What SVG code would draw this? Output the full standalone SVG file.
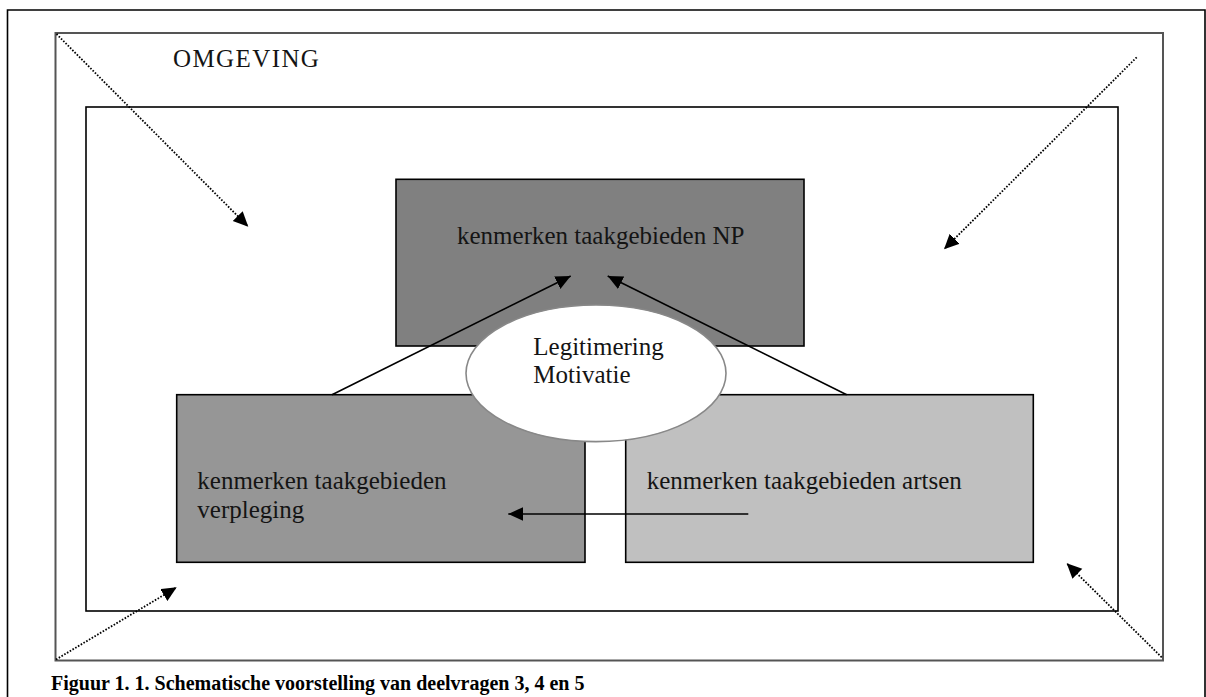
<svg xmlns="http://www.w3.org/2000/svg" width="1206" height="697" viewBox="0 0 1206 697">
<style>
.t{font-family:"Liberation Serif","Times New Roman",serif;font-size:25px;fill:#141414}
.cap{font-family:"Liberation Serif","Times New Roman",serif;font-size:20px;font-weight:bold;fill:#000}
.box{stroke:#000;stroke-width:1.6}
.solid{stroke:#000;stroke-width:1.6;fill:none}
.dot{stroke:#000;stroke-width:1.8;fill:none;stroke-dasharray:1.6 1.6}
</style>
<defs>
<marker id="ah" markerUnits="userSpaceOnUse" markerWidth="16" markerHeight="15" refX="15" refY="7" orient="auto">
<path d="M0,0 L15,7 L0,14 z" fill="#000"/>
</marker>
</defs>
<rect width="1206" height="697" fill="#fff"/>
<g id="frame">
<path d="M7.5,697 V10 H1205 V697" fill="none" stroke="#000" stroke-width="1.6"/>
</g>
<g id="omgeving">
<rect x="55.5" y="33" width="1107.5" height="627.5" fill="none" stroke="#555" stroke-width="2"/>
<text class="t" x="173" y="67" letter-spacing="1.4">OMGEVING</text>
</g>
<g id="organisatie">
<rect x="86" y="107" width="1032" height="504" fill="none" stroke="#000" stroke-width="1.6"/>
</g>
<g id="np">
<rect class="box" x="396" y="179.3" width="408" height="166.7" fill="#808080"/>
<text class="t" x="457" y="244">kenmerken taakgebieden NP</text>
</g>
<g id="verpleging">
<rect class="box" x="176.7" y="394.7" width="408.3" height="167.6" fill="#969696"/>
<text class="t" x="197.3" y="489.3">kenmerken taakgebieden</text>
<text class="t" x="197.3" y="517.5">verpleging</text>
</g>
<g id="artsen">
<rect class="box" x="625.7" y="394.7" width="407.6" height="167.6" fill="#c0c0c0"/>
<text class="t" x="646.7" y="489.3">kenmerken taakgebieden artsen</text>
</g>
<g id="legitimering">
<ellipse cx="596" cy="373.3" rx="130" ry="68.3" fill="#fff" stroke="#888" stroke-width="1.6"/>
<text class="t" x="533.3" y="355">Legitimering</text>
<text class="t" x="533.3" y="383.3">Motivatie</text>
</g>
<g id="connectors">
<line class="solid" x1="332" y1="394.7" x2="570.7" y2="276" marker-end="url(#ah)"/>
<line class="solid" x1="846.7" y1="394.7" x2="607.7" y2="276" marker-end="url(#ah)"/>
<line class="solid" x1="748.3" y1="514" x2="508.3" y2="514" marker-end="url(#ah)"/>
<line class="dot" x1="56.5" y1="34" x2="248.3" y2="226.7" marker-end="url(#ah)"/>
<line class="dot" x1="1136.7" y1="57.3" x2="944" y2="249.3" marker-end="url(#ah)"/>
<line class="dot" x1="56" y1="659.5" x2="176.7" y2="587.3" marker-end="url(#ah)"/>
<line class="dot" x1="1161.7" y1="657.3" x2="1066.7" y2="563.3" marker-end="url(#ah)"/>
</g>
<g id="caption">
<text class="cap" x="51" y="690">Figuur 1. 1. Schematische voorstelling van deelvragen 3, 4 en 5</text>
</g>
</svg>
